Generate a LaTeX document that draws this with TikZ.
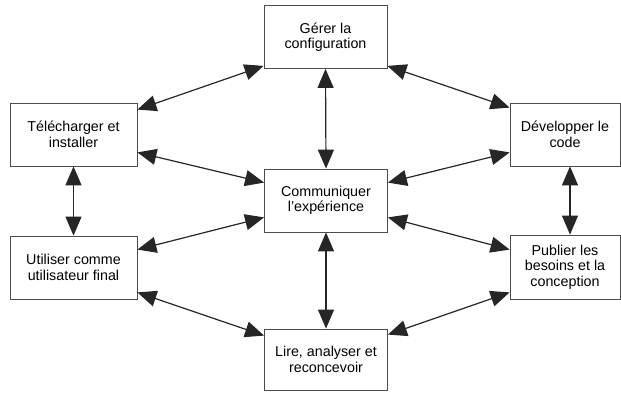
\documentclass[tikz,border=0pt]{standalone}
\usepackage{fontspec}
\setmainfont{Liberation Sans}
\usetikzlibrary{arrows.meta}

\begin{document}
\begin{tikzpicture}[x=1pt, y=1pt,
  every node/.style = {draw=black!70, line width=0.8pt, align=center,
    inner sep=0pt, font=\fontsize{14.3}{15.5}\selectfont},
  box/.style = {minimum width=123pt, minimum height=63pt},
  lien/.style = {{Triangle[length=19pt,width=16pt]}-{Triangle[length=19pt,width=16pt]},
    line width=1.2pt, black!85}]
  \useasboundingbox (0,0) rectangle (621,392);
  \node[box] (conf) at (325.5,355) {G\'erer la\\configuration};
  \node[box, minimum width=127pt] (tel) at (73.5,257.5) {T\'el\'echarger et\\installer};
  \node[box] (comm) at (326,191.5) {Communiquer\\l'exp\'erience};
  \node[box, minimum width=127pt] (util) at (73.5,124.5) {Utiliser comme\\utilisateur final};
  \node[box, minimum width=110pt] (dev) at (565,257.5) {D\'evelopper le\\code};
  \node[box, minimum width=110pt, minimum height=64pt] (pub) at (565,125) {Publier les\\besoins et la\\conception};
  \node[box, minimum height=61pt] (lire) at (326,32.5) {Lire, analyser et\\reconcevoir};
  % verticales
  \draw[lien] (conf.south) -- (comm.north);
  \draw[lien] (comm.south) -- (lire.north);
  \draw[lien] (tel.south) -- (util.north);
  \draw[lien] ([xshift=5]dev.south) -- ([xshift=5]pub.north);
  % cote gauche
  \draw[lien] ([yshift=-7]tel.north east) -- ([yshift=3]conf.south west);
  \draw[lien] ([yshift=14]tel.south east) -- ([yshift=-14]comm.north west);
  \draw[lien] ([yshift=15]comm.south west) -- ([yshift=-14]util.north east);
  \draw[lien] ([yshift=7]util.south east) -- ([yshift=-7]lire.north west);
  % cote droit
  \draw[lien] ([yshift=3]conf.south east) -- ([yshift=-5]dev.north west);
  \draw[lien] ([yshift=14]dev.south west) -- ([yshift=-14]comm.north east);
  \draw[lien] ([yshift=15]comm.south east) -- ([yshift=-15]pub.north west);
  \draw[lien] ([yshift=7]pub.south west) -- ([yshift=-6]lire.north east);
\end{tikzpicture}
\end{document}
